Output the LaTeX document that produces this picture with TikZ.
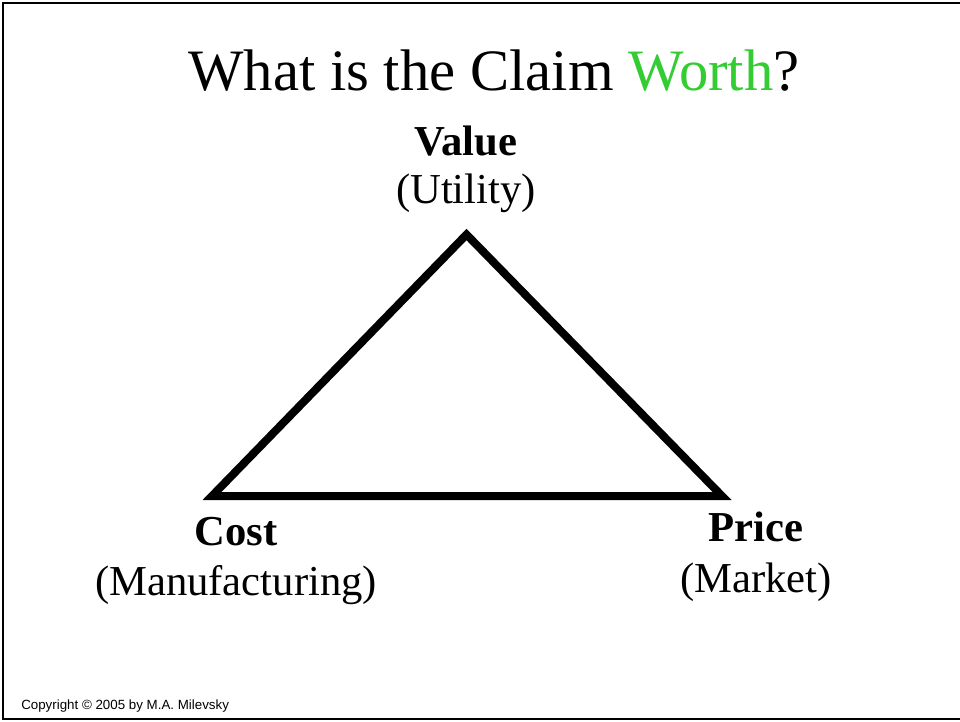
\documentclass[tikz,border=0pt]{standalone}
\usepackage{fontspec}
\setmainfont{Liberation Serif}
\newfontfamily\arialfont{Liberation Sans}
\usetikzlibrary{positioning}

\definecolor{worthgreen}{RGB}{51,204,51}

\tikzset{
  lbl/.style={font=\fontsize{32}{38}\selectfont, anchor=base, inner sep=0pt},
}

\begin{document}
\begin{tikzpicture}[x=0.75pt,y=-0.75pt]
          \useasboundingbox (0,0) rectangle (960,721);
          % slide frame
          \draw[line width=1.5pt] (960,3) -- (3,3) -- (3,719) -- (960,719);
          \node[anchor=base, inner sep=0pt, font=\fontsize{44}{52}\selectfont] (title) at (494,90) {What is the Claim \textcolor{worthgreen}{Worth}?};
          % corners of the triangle
          \coordinate (top) at (466.5,234.5);
          \coordinate (left) at (212,496);
          \coordinate (right) at (722,496);
          \draw[line width=6pt, line join=miter] (top) -- (left) -- (right) -- cycle;
          \node[lbl] (value) at (466,155) {\bfseries Value};
          \node[lbl] (utility) at (466,203) {(Utility)};
          \node[lbl] (cost) at (236,545) {\bfseries Cost};
          \node[lbl] (manuf) at (236,595) {(Manufacturing)};
          \node[lbl] (price) at (756,541) {\bfseries Price};
          \node[lbl] (market) at (756,592) {(Market)};
          \node[anchor=base west, inner sep=0pt, font=\arialfont\fontsize{10}{12}\selectfont] (copy) at (21,709) {Copyright \textcopyright{} 2005 by M.A. Milevsky};
        \end{tikzpicture}
\end{document}
